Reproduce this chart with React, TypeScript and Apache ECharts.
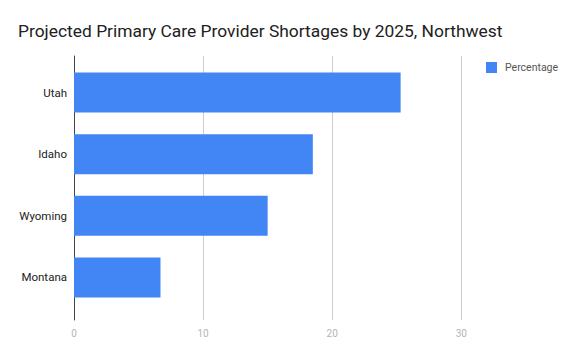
import React, { useEffect, useRef } from "react";
import * as echarts from "echarts";

const categories = ["Utah", "Idaho", "Wyoming", "Montana"];
const percentage = [25.3, 18.5, 15.0, 6.7];
const xTicks = [0, 10, 20, 30];

export default function App() {
  const ref = useRef<HTMLDivElement>(null);
  useEffect(() => {
    if (!ref.current) return;
    const chart = echarts.init(ref.current, null, { renderer: "svg" });
    const font = "Roboto, Arial, sans-serif";
    chart.setOption({
      animation: false,
      textStyle: { fontFamily: font },
      title: {
        text: "Projected Primary Care Provider Shortages by 2025, Northwest",
        left: 13,
        top: 17,
        textStyle: { fontSize: 17.4, fontWeight: "normal", color: "#212121", fontFamily: font },
      },
      legend: {
        data: ["Percentage"],
        left: 481,
        top: 57,
        icon: "rect",
        itemWidth: 11,
        itemHeight: 11,
        textStyle: { color: "#555", fontSize: 10.5, fontFamily: font, padding: [0, 0, 0, 3] },
      },
      grid: [
        { left: 74, top: 61.7, width: 387.3, height: 246.6 },
        { left: 74, top: 56, width: 387.3, height: 264 },
      ],
      xAxis: [
        { gridIndex: 0, type: "value", min: 0, max: 30, interval: 10, show: false },
        {
          gridIndex: 1,
          type: "value",
          min: xTicks[0],
          max: xTicks[xTicks.length - 1],
          interval: 10,
          axisLine: { show: false },
          axisTick: { show: false },
          splitLine: { show: true, lineStyle: { color: "#cccccc", width: 1 } },
          axisLabel: { color: "#b5b5b5", fontSize: 10, margin: 8, fontFamily: font },
        },
      ],
      yAxis: [
        {
          gridIndex: 0,
          type: "category",
          data: categories,
          inverse: true,
          axisLine: { show: false },
          axisTick: { show: false },
          axisLabel: { color: "#222", fontSize: 11.5, margin: 7, fontFamily: font },
        },
        {
          gridIndex: 1,
          type: "category",
          data: ["a"],
          axisLine: { show: true, lineStyle: { color: "#444", width: 1 } },
          axisTick: { show: false },
          axisLabel: { show: false },
        },
      ],
      series: [
        {
          name: "Percentage",
          type: "bar",
          xAxisIndex: 0,
          yAxisIndex: 0,
          data: percentage,
          barWidth: 40,
          itemStyle: { color: "#4285F4" },
        },
      ],
    });
    return () => chart.dispose();
  }, []);
  return (
    <div
      ref={ref}
      style={{ position: "fixed", left: 0, top: 0, width: 575, height: 355, background: "#fff" }}
    />
  );
}
